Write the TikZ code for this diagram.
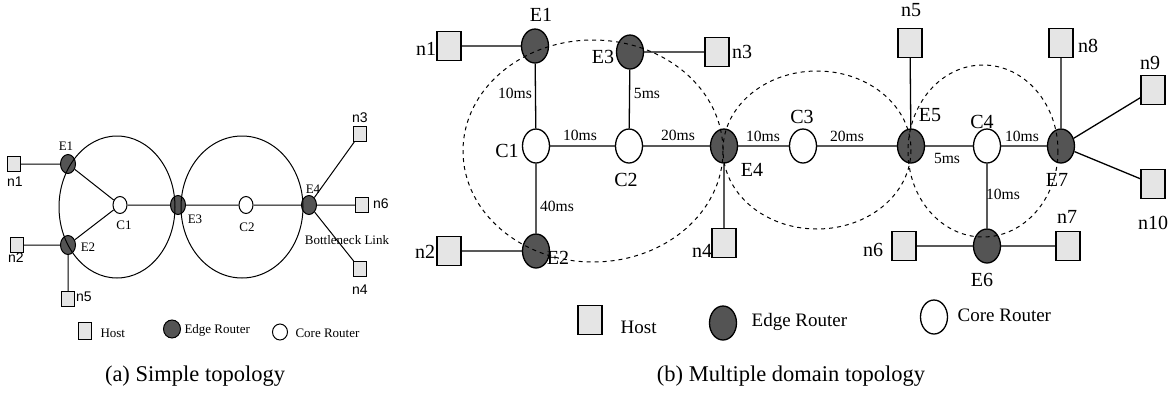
\documentclass[tikz,border=0pt]{standalone}
\usepackage{fontspec}
\setmainfont{Liberation Serif}
\newfontfamily\hostfont{Liberation Sans}
\usetikzlibrary{shapes.geometric}

\begin{document}
\begin{tikzpicture}[x=0.5pt,y=-0.5pt]
            \tikzset{
                hostS/.style={draw,fill=black!10,inner sep=0pt,minimum width=6.5pt,minimum height=7.5pt},
                edgeS/.style={draw,ellipse,fill=black!67,inner sep=0pt,minimum width=7.5pt,minimum height=9.5pt},
                coreS/.style={draw,ellipse,fill=white,inner sep=0pt,minimum width=7pt,minimum height=8.5pt},
                hostB/.style={hostS,minimum width=12pt,minimum height=14.5pt},
                edgeB/.style={edgeS,minimum width=13.5pt,minimum height=17pt},
                coreB/.style={coreS,minimum width=13.5pt,minimum height=17pt},
                domline/.style={line width=0.5pt,dash pattern=on 2pt off 2pt},
                lblS/.style={inner sep=0pt,font=\fontsize{6.5}{7}\selectfont},
                hlblS/.style={inner sep=0pt,font=\hostfont\fontsize{7}{8}\selectfont},
                lblB/.style={inner sep=0pt,font=\fontsize{10}{11}\selectfont},
                delay/.style={inner sep=0pt,font=\fontsize{7.8}{8}\selectfont},
                legB/.style={inner sep=0pt,font=\fontsize{9.5}{10}\selectfont},
                captxt/.style={inner sep=0pt,font=\fontsize{11.25}{12}\selectfont},
            }
            \useasboundingbox (0,0) rectangle (1175,397);
            % (a) simple topology
            \begin{scope}[line width=0.5pt]
            \node[edgeS] (aE1) at (68,164) {};
            \node[edgeS] (aE2) at (68,245) {};
            \node[coreS] (aC1) at (120,205) {};
            \node[edgeS] (aE3) at (178,205) {};
            \node[coreS] (aC2) at (246,205) {};
            \node[edgeS] (aE4) at (309,205) {};
            \node[hostS] (an1) at (14,164) {};
            \node[hostS] (an2) at (17,245) {};
            \node[hostS] (an5) at (68,299) {};
            \node[hostS] (an3) at (360,134) {};
            \node[hostS] (an6) at (362,205) {};
            \node[hostS] (an4) at (360,269) {};
            \draw (an1) -- (aE1) (aE1) -- (aC1) (aE2) -- (aC1) (an2) -- (aE2) (aE2) -- (an5)
                  (aC1) -- (aE3) (aE3) -- (aC2) (aC2) -- (aE4)
                  (aE4) -- (an3) (aE4) -- (an6) (aE4) -- (an4);
            \draw (117,207) ellipse [x radius=58,y radius=71];
            \draw (242,207) ellipse [x radius=61,y radius=71];
            \node[lblS] (tE1) at (66,146) {E1};
            \node[lblS] (tE2) at (88,247) {E2};
            \node[lblS] (tC1) at (124,225) {C1};
            \node[lblS] (tE3) at (195,219) {E3};
            \node[lblS] (tC2) at (247,227) {C2};
            \node[lblS] (tE4) at (313,189) {E4};
            \node[lblS] (tbl) at (347,240) {Bottleneck Link};
            \node[hlblS] (tn1) at (15,182) {n1};
            \node[hlblS] (tn2) at (16,258) {n2};
            \node[hlblS] (tn5) at (84,297) {n5};
            \node[hlblS] (tn6) at (381,204) {n6};
            \node[hlblS] (tn3) at (360,118) {n3};
            \node[hlblS] (tn4) at (360,290) {n4};
            % legend
            \node[hostS,minimum height=8.5pt] (aLh) at (85,331) {};
            \node[lblS,anchor=west] (aLht) at (100,333) {Host};
            \node[edgeS,minimum width=8.5pt,minimum height=9pt] (aLe) at (172,329) {};
            \node[lblS,anchor=west] (aLet) at (184,330) {Edge Router};
            \node[coreS,minimum width=7.5pt,minimum height=8pt] (aLc) at (280,332) {};
            \node[lblS,anchor=west] (aLct) at (295,333) {Core Router};
            \end{scope}
            % (b) multiple domain topology
            \begin{scope}[line width=0.65pt]
            \node[edgeB] (bE1) at (535,46) {};
            \node[edgeB] (bE3) at (630,52) {};
            \node[coreB] (bC1) at (536,146) {};
            \node[coreB] (bC2) at (629,146) {};
            \node[edgeB] (bE2) at (536,251) {};
            \node[edgeB] (bE4) at (724,146) {};
            \node[coreB] (bC3) at (803,146) {};
            \node[edgeB] (bE5) at (911,146) {};
            \node[coreB] (bC4) at (987,146) {};
            \node[edgeB] (bE7) at (1061,146) {};
            \node[edgeB] (bE6) at (987,246) {};
            \node[hostB] (bn1) at (449,46) {};
            \node[hostB] (bn2) at (449,251) {};
            \node[hostB] (bn3) at (717,52) {};
            \node[hostB] (bn4) at (724,243) {};
            \node[hostB] (bn5) at (910,43) {};
            \node[hostB] (bn6) at (904,246) {};
            \node[hostB] (bn7) at (1068,246) {};
            \node[hostB] (bn8) at (1061,43) {};
            \node[hostB] (bn9) at (1153,90) {};
            \node[hostB] (bn10) at (1153,184) {};
            \draw (bn1) -- (bE1) (bE1) -- (bC1) (bC1) -- (bE2) (bE2) -- (bn2)
                  (bC1) -- (bC2) (bC2) -- (bE3) (bE3) -- (bn3) (bC2) -- (bE4) (bE4) -- (bn4)
                  (bE4) -- (bC3) (bC3) -- (bE5) (bE5) -- (bn5) (bE5) -- (bC4) (bC4) -- (bE7)
                  (bC4) -- (bE6) (bE6) -- (bn6) (bE6) -- (bn7)
                  (bE7) -- (bn8) (bE7) -- (bn9) (bE7) -- (bn10);
            \draw [domline] (593,151) ellipse [x radius=130,y radius=111];
            \draw [domline] (817,150) ellipse [x radius=94,y radius=79];
            \draw [domline] (983,151) ellipse [x radius=75,y radius=86];
            \node[lblB] (uE1) at (541,15) {E1};
            \node[lblB] (uE3) at (603,57) {E3};
            \node[lblB] (uE2) at (558,258) {E2};
            \node[lblB] (uC1) at (507,151) {C1};
            \node[lblB] (uC2) at (626,180) {C2};
            \node[lblB] (uE4) at (752,170) {E4};
            \node[lblB] (uC3) at (802,117) {C3};
            \node[lblB] (uE5) at (930,115) {E5};
            \node[lblB] (uC4) at (982,122) {C4};
            \node[lblB] (uE7) at (1057,180) {E7};
            \node[lblB] (uE6) at (982,280) {E6};
            \node[lblB] (un1) at (426,49) {n1};
            \node[lblB] (un2) at (425,252) {n2};
            \node[lblB] (un3) at (742,52) {n3};
            \node[lblB] (un4) at (702,251) {n4};
            \node[lblB] (un5) at (911,10) {n5};
            \node[lblB] (un6) at (873,250) {n6};
            \node[lblB] (un7) at (1067,217) {n7};
            \node[lblB] (un8) at (1088,46) {n8};
            \node[lblB] (un9) at (1150,63) {n9};
            \node[lblB] (un10) at (1153,223) {n10};
            \node[delay] (d1) at (515,93) {10ms};
            \node[delay] (d2) at (647,93) {5ms};
            \node[delay] (d3) at (580,135) {10ms};
            \node[delay] (d4) at (678,135) {20ms};
            \node[delay] (d5) at (557,206) {40ms};
            \node[delay] (d6) at (763,136) {10ms};
            \node[delay] (d7) at (847,136) {20ms};
            \node[delay] (d8) at (947,158) {5ms};
            \node[delay] (d9) at (1022,136) {10ms};
            \node[delay] (d10) at (1003,194) {10ms};
            % legend
            \node[hostB] (bLh) at (590,320) {};
            \node[legB,anchor=west] (bLht) at (620,327) {Host};
            \node[edgeB] (bLe) at (723,323) {};
            \node[legB,anchor=west] (bLet) at (751,322) {Edge Router};
            \node[coreB] (bLc) at (934,317) {};
            \node[legB,anchor=west] (bLct) at (957,315) {Core Router};
            \end{scope}
            \node[captxt] (capa) at (195,376) {(a) Simple topology};
            \node[captxt] (capb) at (791,376) {(b) Multiple domain topology};
        \end{tikzpicture}
\end{document}
